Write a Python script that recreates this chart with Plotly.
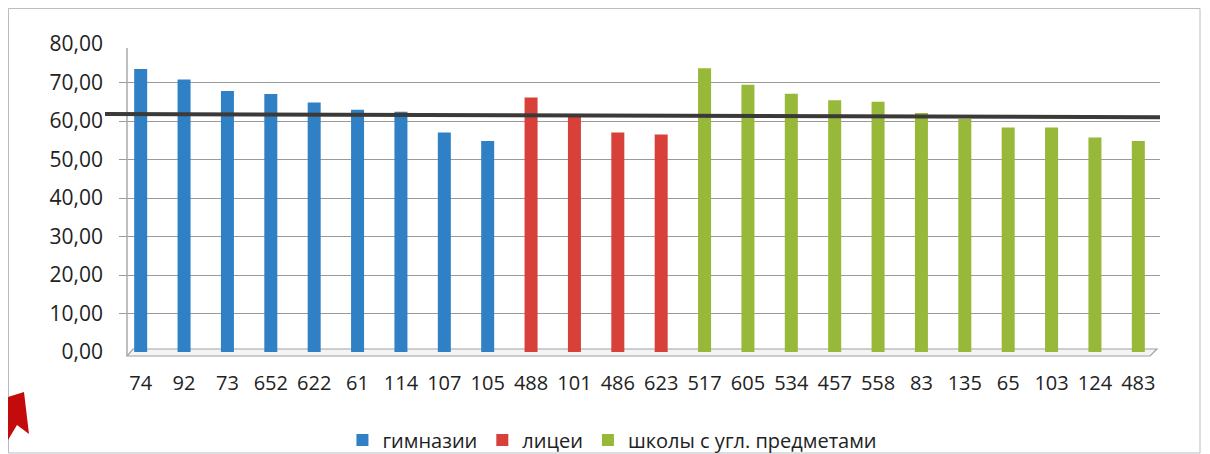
import plotly.graph_objects as go

# ---- data ----
gym_labels = ["74", "92", "73", "652", "622", "61", "114", "107", "105"]
gym_values = [73.5, 70.8, 67.8, 67.0, 64.8, 62.9, 62.4, 57.0, 54.8]

lyc_labels = ["488", "101", "486", "623"]
lyc_values = [66.1, 61.4, 57.0, 56.5]

sch_labels = ["517", "605", "534", "457", "558", "83", "135", "65", "103", "124", "483"]
sch_values = [73.7, 69.4, 67.1, 65.4, 65.0, 62.1, 60.5, 58.3, 58.3, 55.7, 54.8]

series_names = ["гимназии", "лицеи", "школы с угл. предметами"]
series_colors = ["#2f80c4", "#d8403a", "#98b83a"]

ref_line_start = 61.8   # hand-drawn average line, left end
ref_line_end = 61.0     # right end

y_ticks = [0, 10, 20, 30, 40, 50, 60, 70, 80]

# ---- layout geometry (page body has an 8px margin) ----
OFF = 8
W, H = 1210 - OFF, 454 - OFF
# desired plot area in screen pixels: x 119..1160, y 44..352
SX0, SX1, SY0, SY1 = 119, 1160, 44, 352
ML, MT = SX0 - OFF, SY0 - OFF
MR, MB = W - (SX1 - OFF), H - (SY1 - OFF)
PW, PH = SX1 - SX0, SY1 - SY0


def px(x):
    return (x - SX0) / PW


def py(y):
    return (SY1 - y) / PH


fig = go.Figure()
for labels, vals, name, col in zip(
    [gym_labels, lyc_labels, sch_labels],
    [gym_values, lyc_values, sch_values],
    series_names, series_colors,
):
    fig.add_trace(go.Bar(
        x=labels, y=vals, name=name, width=0.3,
        marker=dict(color=col, line=dict(width=0)),
    ))

all_labels = gym_labels + lyc_labels + sch_labels


def poly(points):
    return "M " + " L ".join("{:.5f} {:.5f}".format(px(a), py(b)) for a, b in points) + " Z"


shapes = [
    # outer chart frame
    dict(type="rect", xref="paper", yref="paper",
         x0=px(8.5), x1=px(1200), y0=py(453), y1=py(8.5),
         line=dict(color="#b8bcc4", width=1), layer="below"),
    # 3D floor
    dict(type="path", xref="paper", yref="paper",
         path=poly([(127, 356), (1150, 356), (1157, 349), (133, 349)]),
         fillcolor="rgba(235,237,240,0.6)", line=dict(color="#a0a0a0", width=1.2),
         layer="below"),
    # left wall edge
    dict(type="line", xref="paper", yref="paper",
         x0=px(127), x1=px(127), y0=py(356), y1=py(48),
         line=dict(color="#a8a8a8", width=1.5)),
    # hand-drawn reference line
    dict(type="line", xref="paper", yref="y",
         x0=px(105), x1=px(1160), y0=ref_line_start, y1=ref_line_end,
         line=dict(color="#3c3a38", width=4)),
    # red arrow (scan decoration)
    dict(type="path", xref="paper", yref="paper",
         path=poly([(8, 397), (24, 392), (29, 434), (17, 425), (8, 440)]),
         fillcolor="#c30b0b", line=dict(width=0)),
]

fig.update_layout(
    width=W, height=H,
    margin=dict(l=ML, r=MR, t=MT, b=MB, autoexpand=False),
    paper_bgcolor="white", plot_bgcolor="white",
    barmode="overlay",
    separators=", ",
    font=dict(family="Open Sans, Noto Sans, sans-serif", size=20, color="#222222"),
    xaxis=dict(
        categoryorder="array", categoryarray=all_labels,
        showgrid=False, showline=False,
        ticks="", tickfont=dict(size=20), ticklabelstandoff=17,
        range=[-0.5, len(all_labels) - 0.5], automargin=False,
    ),
    yaxis=dict(
        range=[0, 80], tickvals=y_ticks, tickformat=".2f",
        showgrid=True, gridcolor="#9a9a9a", gridwidth=1,
        showline=False,
        zeroline=False, ticks="", ticklabelstandoff=15,
        tickfont=dict(size=21), automargin=False,
    ),
    legend=dict(
        orientation="h", x=0.474, xanchor="center", y=py(440), yanchor="middle",
        font=dict(size=20), itemwidth=30, traceorder="normal",
        bgcolor="rgba(0,0,0,0)",
    ),
    shapes=shapes,
    showlegend=True,
)

fig.write_html("out.html")
